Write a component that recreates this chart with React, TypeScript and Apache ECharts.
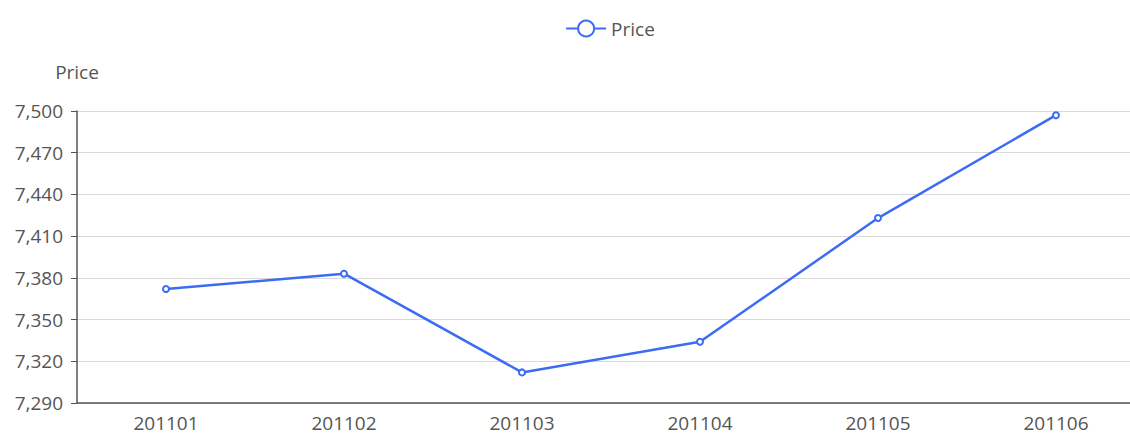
import React, { useEffect, useRef } from "react";
import * as echarts from "echarts";

const categories = ["201101", "201102", "201103", "201104", "201105", "201106"];
const prices = [7372, 7383, 7312, 7334, 7423, 7497];
const seriesName = "Price";

export default function App() {
  const ref = useRef<HTMLDivElement>(null);
  useEffect(() => {
    document.body.style.margin = "0";
    document.body.style.overflow = "hidden";
    const chart = echarts.init(ref.current!, null, { renderer: "svg" });
    chart.setOption({
      animation: false,
      textStyle: { fontFamily: "Open Sans" },
      legend: {
        top: 14,
        left: "center",
        itemWidth: 40,
        itemHeight: 20,
        textStyle: { fontSize: 19, color: "#555" },
        data: [seriesName],
      },
      grid: { left: 77, right: 75, top: 111, bottom: 32, containLabel: false },
      xAxis: {
        type: "category",
        data: categories,
        axisLine: { lineStyle: { color: "#555", width: 1.5 } },
        axisTick: { length: 6, lineStyle: { color: "#555" } },
        axisLabel: { fontSize: 19, color: "#555", margin: 10 },
      },
      yAxis: {
        type: "value",
        name: "Price",
        nameGap: 30,
        nameTextStyle: { fontSize: 19, color: "#555", align: "center" },
        min: 7290,
        max: 7500,
        interval: 30,
        axisLine: { show: true, lineStyle: { color: "#555", width: 1.5 } },
        axisTick: { show: true, length: 6, lineStyle: { color: "#555" } },
        axisLabel: { fontSize: 19, color: "#555", margin: 14 },
        splitLine: { lineStyle: { color: "#d9d9d9", width: 1.2 } },
      },
      series: [
        {
          name: seriesName,
          type: "line",
          data: prices,
          symbol: "emptyCircle",
          symbolSize: 6,
          itemStyle: { color: "#3d6cf4" },
          lineStyle: { width: 2.5, color: "#3d6cf4" },
        },
      ],
    });
    return () => chart.dispose();
  }, []);
  return (
    <div
      ref={ref}
      style={{ position: "absolute", left: 0, top: 0, width: 1220, height: 435 }}
    />
  );
}
